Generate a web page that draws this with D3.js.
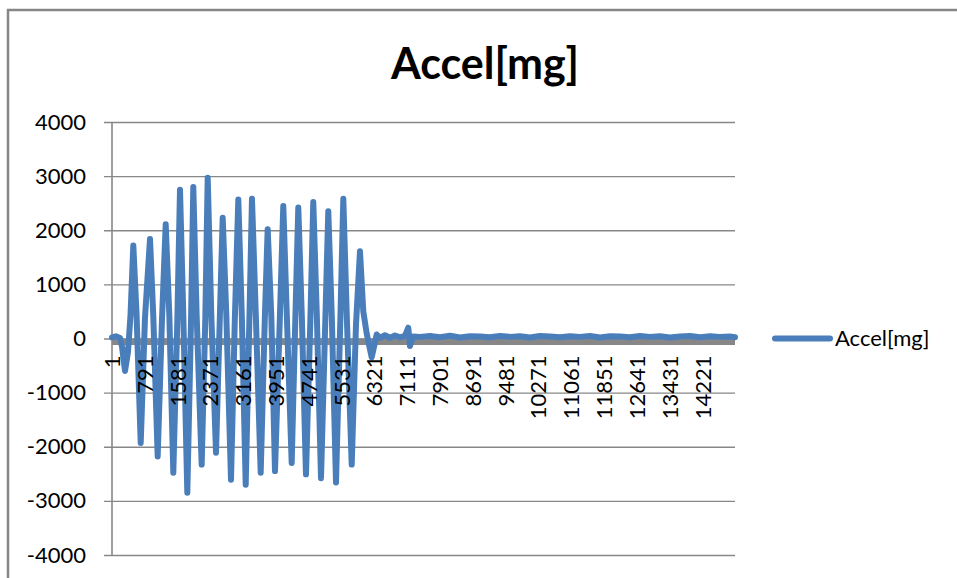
<!DOCTYPE html>
<html>
<head>
<meta charset="utf-8">
<script src="https://cdn.jsdelivr.net/npm/d3@7"></script>
<style>
    body { margin: 0; background: #fff; }
    #chart { width: 957px; height: 578px; }
    text { font-family: Lato, "Liberation Sans", sans-serif; fill: #000; }
</style>
</head>
<body>
<div id="chart"></div>
<script>

// chart data
let chartTitle = "Accel[mg]";
let seriesName = "Accel[mg]";
let totalSamples = 15000;

let sampleIndex = [
    1, 97, 194, 242, 314, 386, 446, 514, 592, 692,
    795, 916, 995, 1101, 1205, 1294, 1381, 1477, 1574, 1638,
    1718, 1814, 1903, 1958, 2039, 2160, 2247, 2305, 2392, 2505,
    2597, 2666, 2753, 2866, 2958, 3042, 3127, 3220, 3308, 3371,
    3464, 3581, 3680, 3749, 3837, 3925, 4041, 4125, 4210, 4327,
    4415, 4486, 4571, 4671, 4776, 4847, 4932, 5033, 5137, 5208,
    5293, 5394, 5498, 5570, 5655, 5772, 5875, 5971, 6051, 6133,
    6253, 6374, 6453, 6573, 6694, 6814, 6934, 7054, 7134, 7175,
    7247, 7416, 7657, 7898, 8138, 8379, 8620, 8861, 9101, 9342,
    9583, 9824, 10064, 10305, 10546, 10787, 11027, 11268, 11509, 11750,
    11990, 12231, 12472, 12713, 12953, 13194, 13435, 13676, 13916, 14157,
    14398, 14639, 14879, 15000
];

let accelValues = [
    20, 40, 10, -150, -600, -250, 420, 1720, 450, -1930,
    380, 1840, 420, -2180, 360, 2110, 430, -2480, 330, 2750,
    420, -2850, 300, 2800, 430, -2330, 350, 2970, 430, -2110,
    380, 2230, 440, -2610, 350, 2570, 400, -2700, 330, 2580,
    420, -2480, 360, 2020, 400, -2450, 350, 2450, 420, -2300,
    370, 2420, 410, -2510, 320, 2520, 430, -2580, 340, 2350,
    400, -2660, 330, 2580, 380, -2330, 250, 1610, 500, 90,
    -350, 75, 10, 60, 15, 55, 20, 50, 200, -140,
    35, 30, 45, 25, 50, 20, 40, 35, 25, 45,
    30, 40, 20, 45, 35, 25, 40, 30, 45, 20,
    40, 35, 25, 45, 30, 40, 20, 35, 45, 25,
    40, 30, 35, 25
];

let xTickLabels = ["1", "791", "1581", "2371", "3161", "3951", "4741", "5531", "6321",
    "7111", "7901", "8691", "9481", "10271", "11061", "11851", "12641", "13431", "14221"];

let yTickValues = [-4000, -3000, -2000, -1000, 0, 1000, 2000, 3000, 4000];


class AccelChart {

    constructor(parentElement){
        this.parentElement = parentElement;
        this.data = sampleIndex.map((s, i) => ({sample: s, accel: accelValues[i]}));
        this.initVis();
    }

    initVis(){
        let vis = this;

        vis.margin = {top: 122, right: 222, bottom: 23, left: 112};
        vis.width = 957 - vis.margin.left - vis.margin.right;
        vis.height = 578 - vis.margin.top - vis.margin.bottom;

        vis.root = d3.select("#" + vis.parentElement).append("svg")
            .attr("width", 957)
            .attr("height", 578);

        // outer chart frame (runs off the right/bottom edge)
        vis.root.append("rect")
            .attr("x", 8)
            .attr("y", 10)
            .attr("width", 980)
            .attr("height", 600)
            .attr("fill", "none")
            .attr("stroke", "#868686")
            .attr("stroke-width", 2.5);

        vis.root.append("text")
            .attr("x", 485)
            .attr("y", 79)
            .attr("text-anchor", "middle")
            .attr("font-weight", "bold")
            .style("font-size", "43px")
            .text(chartTitle);

        vis.svg = vis.root.append("g")
            .attr("transform", `translate(${vis.margin.left}, ${vis.margin.top})`);

        // Scales
        vis.x = d3.scaleLinear()
            .domain([1, totalSamples])
            .range([0, vis.width]);

        vis.y = d3.scaleLinear()
            .domain([-4000, 4000])
            .range([vis.height, 0]);

        vis.yAxis = d3.axisLeft(vis.y)
            .tickValues(yTickValues)
            .tickSize(-vis.width - 8)
            .tickSizeOuter(0)
            .tickPadding(18)
            .tickFormat(d => String(d));

        vis.yAxisGroup = vis.svg.append("g")
            .attr("class", "y-axis axis")
            .attr("transform", "translate(-8,0)")
            .call(vis.yAxis);

        vis.yAxisGroup.select(".domain").remove();
        vis.yAxisGroup.selectAll("line")
            .attr("stroke", "#878787")
            .attr("stroke-width", 1.4);
        vis.yAxisGroup.selectAll("text")
            .style("font-size", "22px");

        // vertical axis line
        vis.svg.append("line")
            .attr("x1", vis.x(1))
            .attr("x2", vis.x(1))
            .attr("y1", 0)
            .attr("y2", vis.height)
            .attr("stroke", "#878787")
            .attr("stroke-width", 1.6);

        // category tick marks: one per sample, they merge into a solid band
        vis.svg.append("rect")
            .attr("x", vis.x(1))
            .attr("y", vis.y(0))
            .attr("width", vis.x(totalSamples) - vis.x(1))
            .attr("height", 6.5)
            .attr("fill", "#878787");

        vis.line = d3.line()
            .x(d => vis.x(d.sample))
            .y(d => vis.y(d.accel));

        vis.svg.append("path")
            .datum(vis.data)
            .attr("fill", "none")
            .attr("stroke", "#4a7ebb")
            .attr("stroke-width", 6)
            .attr("stroke-linejoin", "round")
            .attr("stroke-linecap", "round")
            .attr("d", vis.line);

        // category labels, rotated, drawn over the series line
        vis.svg.append("g")
            .attr("class", "x-axis axis")
            .selectAll("text")
            .data(xTickLabels)
            .enter()
            .append("text")
            .attr("transform", d => `translate(${vis.x(+d)}, ${vis.y(0) + 17}) rotate(-90)`)
            .attr("text-anchor", "end")
            .attr("dy", "0.36em")
            .style("font-size", "22px")
            .text(d => d);

        // legend
        vis.legend = vis.svg.append("g")
            .attr("class", "legend")
            .attr("transform", `translate(${vis.width + 40}, ${vis.y(0)})`);

        vis.legend.append("line")
            .attr("x1", 0)
            .attr("x2", 55)
            .attr("stroke", "#4a7ebb")
            .attr("stroke-width", 6)
            .attr("stroke-linecap", "round");

        vis.legend.append("text")
            .attr("x", 60)
            .attr("dy", "0.35em")
            .style("font-size", "22px")
            .text(seriesName);
    }
}

new AccelChart("chart");

</script>
</body>
</html>
